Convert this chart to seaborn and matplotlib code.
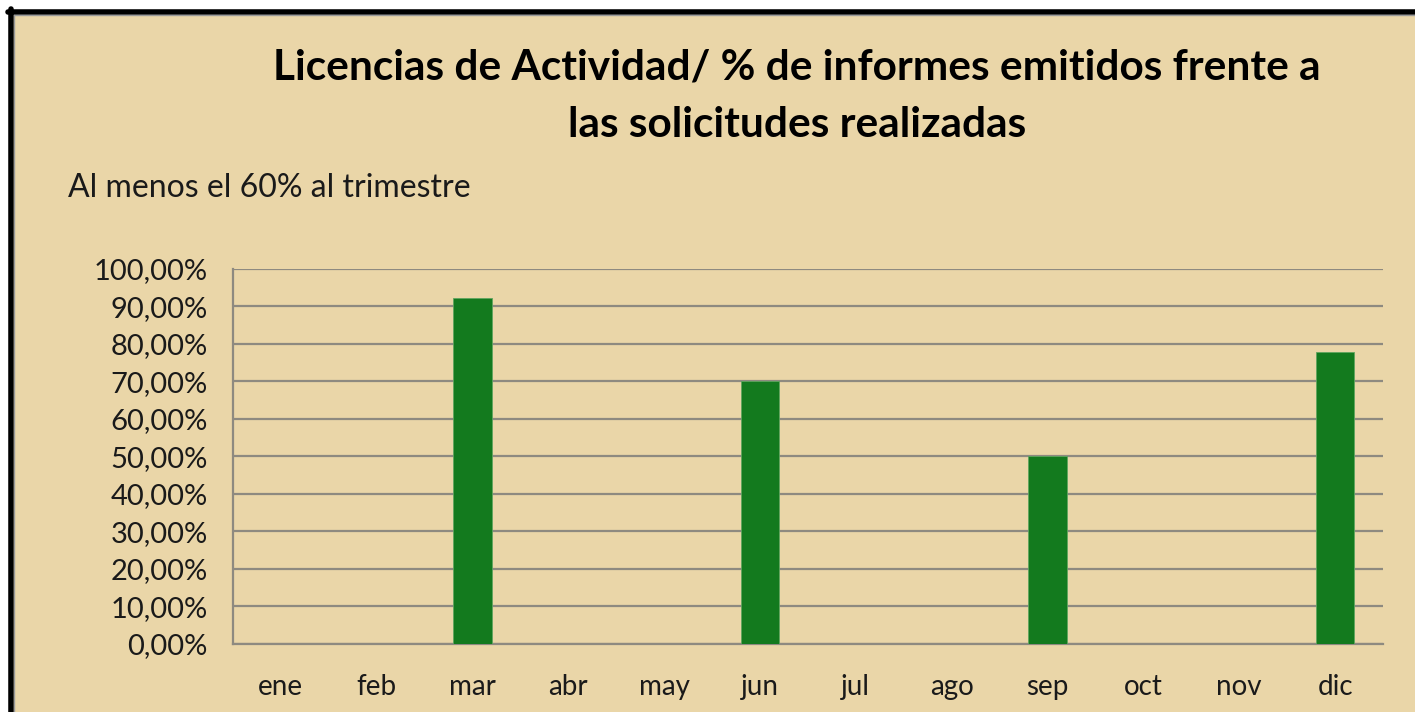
import matplotlib
matplotlib.use("Agg")
import matplotlib.pyplot as plt
import matplotlib.ticker as mticker
from matplotlib.patches import Rectangle
from matplotlib.lines import Line2D
import pandas as pd
import seaborn as sns

# datos
meses = ["ene", "feb", "mar", "abr", "may", "jun", "jul", "ago", "sep", "oct", "nov", "dic"]
porcentajes = [0, 0, 92.3, 0, 0, 70.0, 0, 0, 50.0, 0, 0, 77.8]
titulo = ["Licencias de Actividad/ % de informes emitidos frente a",
          "las solicitudes realizadas"]
subtitulo = "Al menos el 60% al trimestre"

fondo = "#EAD6A8"
verde = "#137A1E"
gris = "#8E8A80"

sns.set_theme(style="white")
plt.rcParams['font.family'] = ['Lato', 'DejaVu Sans']

df = pd.DataFrame({"mes": meses, "pct": porcentajes})

W, H = 1415, 712
fig = plt.figure(figsize=(W / 100, H / 100), dpi=100)
fig.patch.set_facecolor("white")

# fondo beige y borde (solo arriba e izquierda, el resto queda fuera del recorte)
fig.patches.append(Rectangle((13 / W, 0), 1, 1 - 15 / H, transform=fig.transFigure,
                             facecolor=fondo, edgecolor="none", zorder=-3))
for xs, ys, c, lw in [([10.5 / W, 10.5 / W], [0, 1 - 9 / H], "black", 4),
                      ([8 / W, 1], [1 - 11.5 / H, 1 - 11.5 / H], "black", 4),
                      ([13.5 / W, 13.5 / W], [0, 1 - 14.5 / H], "#9A9A9A", 1),
                      ([13.5 / W, 1], [1 - 14.5 / H, 1 - 14.5 / H], "#9A9A9A", 1)]:
    fig.lines.append(Line2D(xs, ys, transform=fig.transFigure, color=c, linewidth=lw))

ax = fig.add_axes([233 / W, 1 - 643.5 / H, 1150 / W, 374.5 / H])
ax.set_facecolor(fondo)

sns.barplot(data=df, x="mes", y="pct", color=verde, width=0.4, saturation=1,
            edgecolor="#5FA55F", linewidth=0.6, ax=ax, zorder=3)

ax.set_xlim(-0.5, len(meses) - 0.5)
ax.set_ylim(0, 100)
ax.yaxis.set_major_locator(mticker.MultipleLocator(10))
ax.yaxis.set_major_formatter(mticker.FuncFormatter(lambda v, p: f"{v:.2f}".replace(".", ",") + "%"))
ax.grid(axis="y", color=gris, linewidth=1.6, zorder=0)
ax.set_axisbelow(True)

for s in ["top", "right"]:
    ax.spines[s].set_visible(False)
for s in ["left", "bottom"]:
    ax.spines[s].set_color(gris)
    ax.spines[s].set_linewidth(1.6)

# etiquetas en el centro, marcas en los límites de cada categoría
ax.set_xticks(range(len(meses)))
ax.set_xticklabels(meses)
ax.set_xticks([i - 0.5 for i in range(len(meses) + 1)], minor=True)
ax.tick_params(axis="x", which="major", length=0, pad=22, labelsize=20, labelcolor="#1A1A1A")
ax.tick_params(axis="x", which="minor", length=7, width=1.6, color=gris, direction="out")
ax.tick_params(axis="y", length=6, width=1.6, color=gris, direction="out", pad=12,
               labelsize=21, labelcolor="#1A1A1A")
ax.set_xlabel("")
ax.set_ylabel("")

fig.text(797 / W, 1 - 79 / H, titulo[0], ha="center", va="baseline", fontsize=30.5,
         fontweight="bold", color="black")
fig.text(797 / W, 1 - 137 / H, titulo[1], ha="center", va="baseline", fontsize=30.5,
         fontweight="bold", color="black")
fig.text(68 / W, 1 - 197 / H, subtitulo, ha="left", va="baseline", fontsize=23,
         color="#1A1A1A")

fig.savefig("out.png", dpi=100, facecolor=fig.get_facecolor())
